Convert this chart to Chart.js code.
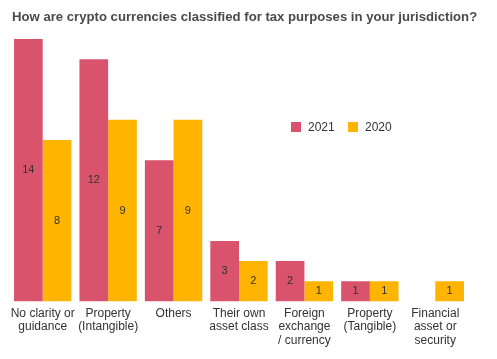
<!DOCTYPE html>
<html>
<head>
<meta charset="utf-8">
<script src="https://cdn.jsdelivr.net/npm/chart.js@4/dist/chart.umd.min.js"></script>
<style>
  html, body { margin: 0; padding: 0; background: #ffffff; }
  #wrap { position: relative; width: 497px; height: 359px; }
</style>
</head>
<body>
<div id="wrap"><canvas id="c" width="497" height="359"></canvas></div>
<script>
const categories = [
  ["No clarity or", "guidance"],
  ["Property", "(Intangible)"],
  ["Others"],
  ["Their own", "asset class"],
  ["Foreign", "exchange", "/ currency"],
  ["Property", "(Tangible)"],
  ["Financial", "asset or", "security"]
];
const seriesNames = ["2021", "2020"];
const values2021 = [14, 12, 7, 3, 2, 1, 0];
const values2020 = [8, 9, 9, 2, 1, 1, 1];
const titleText = "How are crypto currencies classified for tax purposes in your jurisdiction?";

const RED = "#D9536C";
const YELLOW = "#FFB400";
const FONT = "'Liberation Sans', Arial, sans-serif";

const barLabels = {
  id: "barLabels",
  afterDatasetsDraw(chart) {
    const ctx = chart.ctx;
    const area = chart.chartArea;
    ctx.save();
    ctx.font = "11px " + FONT;
    ctx.fillStyle = "#333333";
    ctx.textAlign = "center";
    ctx.textBaseline = "middle";
    chart.data.datasets.forEach((ds, i) => {
      const meta = chart.getDatasetMeta(i);
      meta.data.forEach((el, j) => {
        const v = ds.data[j];
        if (!v) return;
        const top = Math.max(el.y, area.top);
        const cy = (top + el.base) / 2;
        ctx.fillText(String(v), el.x, cy);
      });
    });
    ctx.restore();
  }
};

const insideLegend = {
  id: "insideLegend",
  afterDraw(chart) {
    const ctx = chart.ctx;
    ctx.save();
    ctx.font = "12px " + FONT;
    ctx.textBaseline = "middle";
    ctx.textAlign = "left";
    let x = 291;
    const y = 127;
    chart.data.datasets.forEach((ds) => {
      ctx.fillStyle = ds.backgroundColor;
      ctx.fillRect(x, y - 5, 10, 10);
      ctx.fillStyle = "#333333";
      ctx.fillText(ds.label, x + 17, y + 1);
      x += 57;
    });
    ctx.restore();
  }
};

const leftTitle = {
  id: "leftTitle",
  afterDraw(chart) {
    const ctx = chart.ctx;
    ctx.save();
    ctx.font = "bold 13.15px " + FONT;
    ctx.fillStyle = "#4a4a4a";
    ctx.textAlign = "left";
    ctx.textBaseline = "middle";
    ctx.fillText(titleText, 12, 17);
    ctx.restore();
  }
};

new Chart(document.getElementById("c"), {
  type: "bar",
  data: {
    labels: categories,
    datasets: [
      { label: seriesNames[0], data: values2021, backgroundColor: RED, borderWidth: 0, clip: 0 },
      { label: seriesNames[1], data: values2020, backgroundColor: YELLOW, borderWidth: 0, clip: 0 }
    ]
  },
  options: {
    responsive: false,
    animation: false,
    devicePixelRatio: 1,
    layout: { padding: { left: 10, right: 29, top: 39, bottom: 7 } },
    datasets: { bar: { categoryPercentage: 0.877, barPercentage: 1.0 } },
    plugins: {
      legend: { display: false },
      tooltip: { enabled: false },
      title: { display: false }
    },
    scales: {
      x: {
        grid: { display: false, drawTicks: false },
        border: { display: false },
        ticks: {
          color: "#333333",
          font: { family: FONT, size: 12, lineHeight: 1.125 },
          padding: 5,
          maxRotation: 0,
          autoSkip: false
        }
      },
      y: {
        display: false,
        min: 0,
        max: 13
      }
    }
  },
  plugins: [barLabels, insideLegend, leftTitle]
});
</script>
</body>
</html>
